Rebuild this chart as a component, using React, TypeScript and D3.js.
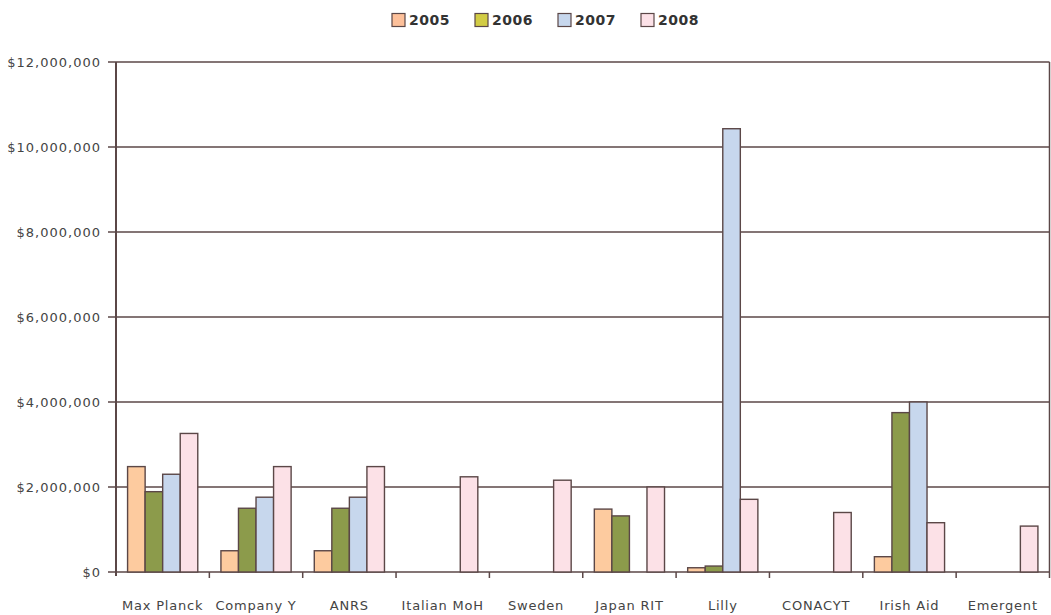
import React from "react";
import * as d3 from "d3";

const categories = ["Max Planck", "Company Y", "ANRS", "Italian MoH", "Sweden", "Japan RIT", "Lilly", "CONACYT", "Irish Aid", "Emergent"];
const years = ["2005", "2006", "2007", "2008"];
const v2005 = [2480000, 500000, 500000, 0, 0, 1480000, 100000, 0, 360000, 0];
const v2006 = [1890000, 1500000, 1500000, 0, 0, 1320000, 140000, 0, 3750000, 0];
const v2007 = [2300000, 1760000, 1760000, 0, 0, 0, 10430000, 0, 4000000, 0];
const v2008 = [3260000, 2480000, 2480000, 2240000, 2160000, 2000000, 1710000, 1400000, 1160000, 1080000];
const series = [v2005, v2006, v2007, v2008];
const yTicks = [0, 2000000, 4000000, 6000000, 8000000, 10000000, 12000000];
const barColors = ["#FDCB9F", "#8C9B4B", "#C7D7ED", "#FCE1E7"];
const legendColors = ["#FDC09A", "#D2CC44", "#C7D7ED", "#FCE1E7"];

const W = 1051, H = 615;
const M = { left: 116, right: 1049.5, top: 62, bottom: 572 };
const FONT = "'DejaVu Sans', sans-serif";
const LINE = "#5B4747";

export default function App() {
  const x = d3.scaleBand<string>().domain(categories).range([M.left, M.right]).paddingInner(0).paddingOuter(0);
  const bw = x.bandwidth();
  const inner = d3.scaleBand<string>().domain(years).range([0, bw]).paddingInner(0).paddingOuter(0.66);
  const y = d3.scaleLinear().domain([0, 12000000]).range([M.bottom, M.top]);
  const fmt = (v: number) => "$" + d3.format(",")(v);

  return (
    <svg width={W} height={H} style={{ position: "absolute", left: 0, top: 0, background: "#fff" }}>
      {/* legend */}
      {years.map((yr, i) => {
        const lx = 392 + i * 83;
        return (
          <g key={yr}>
            <rect x={lx} y={13.5} width={13} height={13} fill={legendColors[i]} stroke={LINE} strokeWidth={1.2} />
            <text x={lx + 17} y={25} fontFamily={FONT} fontSize={14} fontWeight={600} letterSpacing={0.5} fill="#333">{yr}</text>
          </g>
        );
      })}
      {/* gridlines */}
      {yTicks.map((t) => (
        <g key={t}>
          <line x1={M.left - 8} x2={M.right} y1={y(t)} y2={y(t)} stroke={LINE} strokeWidth={1.5} />
          <text x={101} y={y(t) + 4.5} textAnchor="end" fontFamily={FONT} fontSize={13} letterSpacing={1} fill="#444">{fmt(t)}</text>
        </g>
      ))}
      {/* axes */}
      <line x1={M.left} x2={M.left} y1={M.top} y2={M.bottom + 4} stroke={LINE} strokeWidth={2} />
      <line x1={M.right} x2={M.right} y1={M.top} y2={M.bottom + 6} stroke={LINE} strokeWidth={1.5} />
      {categories.map((c, i) => i > 0 ? (
        <line key={"t" + c} x1={x(c)!} x2={x(c)!} y1={M.bottom} y2={M.bottom + 6} stroke={LINE} strokeWidth={1.5} />
      ) : null)}
      {/* bars */}
      {categories.map((c, ci) => (
        <g key={c}>
          {series.map((s, si) => s[ci] > 0 ? (
            <rect key={si}
              x={x(c)! + inner(years[si])!}
              y={y(s[ci])}
              width={inner.bandwidth()}
              height={y(0) - y(s[ci])}
              fill={barColors[si]} stroke={LINE} strokeWidth={1.4} />
          ) : null)}
          <text x={x(c)! + bw / 2} y={610} textAnchor="middle" fontFamily={FONT} fontSize={13} letterSpacing={0.8} fill="#444">{c}</text>
        </g>
      ))}
    </svg>
  );
}
